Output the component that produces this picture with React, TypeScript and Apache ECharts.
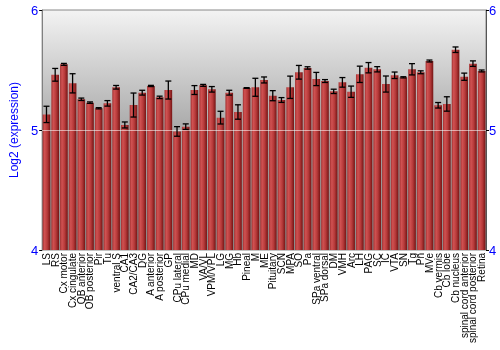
import React, { useEffect, useRef } from "react";
import * as echarts from "echarts";

const regions: string[] = [
  "LS", "RS", "Cx motor", "Cx cingulate", "OB anterior", "OB posterior", "Pir", "Tu",
  "ventral S", "CA1", "CA2/CA3", "DG", "A anterior", "A posterior", "GP", "CPu lateral",
  "CPu medial", "MD", "VA/VL", "VPM/VPL", "LG", "MG", "Hb", "Pineal", "M", "ME",
  "Pituitary", "SCN", "MPA", "SO", "Pa", "SPa ventral", "SPa dorsal", "DM", "VMH", "Arc",
  "LH", "PAG", "SC", "IC", "VTA", "SN", "Tg", "Pn", "MVe", "Cb vermis", "Cb lobe",
  "Cb nucleus", "spinal cord anterior", "spinal cord posterior", "Retina",
];

const meanExpression: number[] = [
  5.13, 5.46, 5.547, 5.389, 5.256, 5.228, 5.181, 5.222,
  5.356, 5.042, 5.208, 5.311, 5.367, 5.272, 5.333, 4.988,
  5.028, 5.333, 5.372, 5.339, 5.103, 5.311, 5.15, 5.35, 5.356, 5.417,
  5.286, 5.25, 5.356, 5.481, 5.517, 5.425, 5.408, 5.322, 5.397, 5.319,
  5.464, 5.519, 5.506, 5.383, 5.456, 5.439, 5.506, 5.481, 5.575, 5.206, 5.217,
  5.669, 5.444, 5.553, 5.492,
];

const stdError: number[] = [
  0.068, 0.053, 0.008, 0.08, 0.01, 0.006, 0.005, 0.023,
  0.015, 0.025, 0.1, 0.02, 0.005, 0.01, 0.075, 0.04,
  0.023, 0.037, 0.008, 0.023, 0.053, 0.02, 0.06, 0.003, 0.075, 0.025,
  0.042, 0.02, 0.093, 0.057, 0.01, 0.055, 0.012, 0.018, 0.04, 0.047,
  0.068, 0.043, 0.022, 0.067, 0.027, 0.005, 0.047, 0.012, 0.008, 0.023, 0.06,
  0.023, 0.03, 0.023, 0.008,
];

const yTicks = { min: 4, max: 6, interval: 1 };

export default function App() {
  const ref = useRef<HTMLDivElement>(null);

  useEffect(() => {
    if (!ref.current) return;
    const chart = echarts.init(ref.current, undefined, { renderer: "svg" });

    const errorData = meanExpression.map((m, i) => [i, m - stdError[i], m + stdError[i]]);

    const barFill = new echarts.graphic.LinearGradient(0, 0, 1, 0, [
      { offset: 0, color: "#a33030" },
      { offset: 0.25, color: "#d05252" },
      { offset: 0.6, color: "#b73a3a" },
      { offset: 1, color: "#741414" },
    ]);

    const blueLabel = { color: "#0000ff", fontSize: 13, fontFamily: "Liberation Sans, Arial, sans-serif" };

    chart.setOption({
      animation: false,
      textStyle: { fontFamily: "Liberation Sans, Arial, sans-serif" },
      grid: {
        left: 27,
        right: 14,
        top: 10,
        bottom: 100,
        show: true,
        borderColor: "#888888",
        borderWidth: 1,
        backgroundColor: new echarts.graphic.LinearGradient(0, 0, 0, 1, [
          { offset: 0, color: "#f3f3f3" },
          { offset: 0.5, color: "#a9a9a9" },
          { offset: 1, color: "#8a8a8a" },
        ]),
      },
      xAxis: {
        type: "category",
        data: regions,
        axisTick: { show: false },
        axisLine: { show: false },
        axisLabel: {
          interval: 0,
          rotate: 90,
          fontSize: 10,
          color: "#000000",
          margin: 3,
        },
      },
      yAxis: [
        {
          type: "value",
          ...yTicks,
          position: "left",
          name: "Log2 (expression)",
          nameLocation: "middle",
          nameGap: 17,
          nameTextStyle: { color: "#0000ff", fontSize: 12 },
          axisLine: { show: true, lineStyle: { color: "#808080" } },
          axisTick: { show: true, length: 3, lineStyle: { color: "#000000" } },
          axisLabel: { ...blueLabel, margin: 4 },
          splitLine: { show: false },
        },
        {
          type: "value",
          ...yTicks,
          position: "right",
          axisLine: { show: true, lineStyle: { color: "#555555" } },
          axisTick: { show: true, length: 3, lineStyle: { color: "#000000" } },
          axisLabel: { ...blueLabel, margin: 3 },
          splitLine: { show: false },
        },
      ],
      series: [
        {
          type: "bar",
          data: meanExpression,
          barCategoryGap: "12%",
          itemStyle: { color: barFill },
          markLine: {
            silent: true,
            symbol: "none",
            label: { show: false },
            lineStyle: { color: "rgba(255,255,255,0.55)", width: 1, type: "solid" },
            data: [{ yAxis: 5 }],
          },
        },
        {
          type: "custom",
          data: errorData,
          z: 5,
          renderItem: (params: any, api: any) => {
            const x = api.value(0);
            const lo = api.coord([x, api.value(1)]);
            const hi = api.coord([x, api.value(2)]);
            const half = 3;
            const style = { stroke: "#000000", lineWidth: 1.3 };
            return {
              type: "group",
              children: [
                { type: "line", shape: { x1: lo[0], y1: lo[1], x2: hi[0], y2: hi[1] }, style },
                { type: "line", shape: { x1: lo[0] - half, y1: lo[1], x2: lo[0] + half, y2: lo[1] }, style },
                { type: "line", shape: { x1: hi[0] - half, y1: hi[1], x2: hi[0] + half, y2: hi[1] }, style },
              ],
            };
          },
        },
      ],
    });

    return () => chart.dispose();
  }, []);

  return (
    <div
      ref={ref}
      style={{ position: "fixed", left: 0, top: 0, width: 500, height: 350 }}
    />
  );
}
